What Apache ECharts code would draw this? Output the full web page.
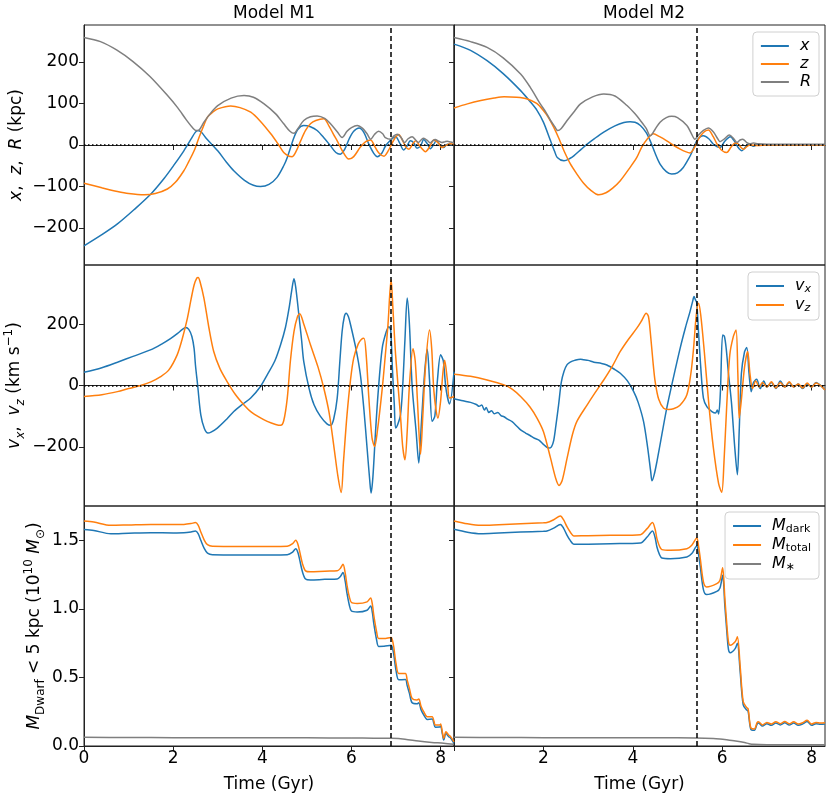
<!DOCTYPE html>
<html>
<head>
<meta charset="utf-8">
<script src="https://cdn.jsdelivr.net/npm/echarts@6/dist/echarts.min.js"></script>
<style>
  html, body { margin: 0; padding: 0; background: #fff; }
  #chart { width: 831px; height: 798px; }
</style>
</head>
<body>
<div id="chart"></div>
<script>
// ---- data: [time (Gyr), value] ----
const timeTicks = [0, 2, 4, 6, 8];
const timeTicksRight = [2, 4, 6, 8];
const posTicks = [-200, -100, 0, 100, 200];
const velTicks = [-200, 0, 200];
const massTicks = [0, 0.5, 1.0, 1.5];
const cutTime = [6.88, 5.42];   // dashed lines, M1 / M2

const m1X = [[0,-243],[0.4,-216],[0.75,-190],[1.12,-156],[1.5,-118],[1.8,-80],[2.02,-48],[2.24,-14],[2.4,14],[2.5,31],[2.56,35],[2.64,30],[2.75,15],[3.0,-14],[3.2,-42],[3.36,-62],[3.6,-85],[3.8,-97],[3.96,-100],[4.15,-95],[4.33,-78],[4.48,-50],[4.56,-30],[4.71,18],[4.8,38],[4.93,47],[5.08,44],[5.23,35],[5.4,15],[5.53,-2],[5.65,-18],[5.75,-22],[5.85,-10],[5.95,15],[6.05,33],[6.17,41],[6.28,30],[6.39,2],[6.5,-20],[6.58,-28],[6.68,-20],[6.76,-3],[6.88,12],[6.99,20],[7.08,5],[7.17,-12],[7.25,-2],[7.32,10],[7.4,5],[7.47,-8],[7.55,-2],[7.62,13],[7.7,3],[7.77,-9],[7.85,2],[7.9,10],[8.0,-2],[8.07,-6],[8.15,2],[8.3,0]];
const m1Z = [[0,-92],[0.4,-103],[0.75,-112],[1.0,-117],[1.35,-120],[1.6,-117],[1.87,-106],[2.05,-90],[2.24,-62],[2.35,-40],[2.47,-14],[2.58,18],[2.68,45],[2.77,67],[2.9,80],[3.0,87],[3.29,94],[3.5,90],[3.74,79],[3.95,58],[4.19,27],[4.35,3],[4.48,-18],[4.6,-27],[4.67,-28],[4.76,-15],[4.86,10],[4.97,35],[5.08,51],[5.2,59],[5.38,63],[5.5,45],[5.6,25],[5.68,10],[5.8,-15],[5.94,-34],[6.05,-28],[6.2,-5],[6.32,8],[6.43,12],[6.53,-5],[6.62,-20],[6.73,-27],[6.82,-15],[6.95,12],[7.06,25],[7.15,10],[7.22,-5],[7.29,-10],[7.37,2],[7.44,10],[7.55,-5],[7.66,-16],[7.75,-5],[7.85,12],[7.95,5],[8.03,-6],[8.12,-1],[8.22,3],[8.3,1]];
const m1R = [[0,259],[0.37,249],[0.73,229],[1.1,201],[1.48,165],[1.85,122],[2.1,90],[2.3,60],[2.45,40],[2.52,35],[2.58,36],[2.69,55],[2.85,78],[3.0,95],[3.3,113],[3.59,119],[3.8,115],[4.04,99],[4.3,75],[4.48,51],[4.62,33],[4.71,28],[4.8,40],[4.93,59],[5.08,68],[5.23,70],[5.4,64],[5.53,51],[5.68,32],[5.79,18],[5.9,33],[6.0,42],[6.13,47],[6.25,40],[6.35,27],[6.43,14],[6.52,26],[6.61,33],[6.7,27],[6.76,18],[6.88,14],[6.95,22],[7.03,26],[7.12,17],[7.19,6],[7.27,15],[7.36,20],[7.44,12],[7.5,6],[7.56,12],[7.62,16],[7.7,11],[7.77,5],[7.82,10],[7.88,13],[7.96,9],[8.03,6],[8.1,8],[8.15,9],[8.22,7],[8.3,5]];

const m2X = [[0,243],[0.37,228],[0.74,203],[1.1,172],[1.49,131],[1.7,105],[1.86,83],[2.0,55],[2.16,10],[2.25,-15],[2.31,-30],[2.46,-38],[2.6,-32],[2.68,-26],[2.85,-10],[2.98,2],[3.15,16],[3.35,31],[3.6,46],[3.8,54],[3.94,56],[4.05,55],[4.17,47],[4.3,30],[4.39,10],[4.5,-20],[4.61,-46],[4.75,-64],[4.87,-70],[5.0,-67],[5.13,-54],[5.25,-33],[5.32,-18],[5.43,10],[5.5,19],[5.58,22],[5.7,15],[5.82,0],[5.95,-6],[6.05,8],[6.18,20],[6.28,8],[6.35,-5],[6.44,-14],[6.52,-5],[6.6,2],[6.7,-3],[6.8,1],[7.0,0],[8.3,0]];
const m2Z = [[0,89],[0.3,99],[0.6,107],[0.9,113],[1.12,116],[1.4,115],[1.64,111],[1.85,100],[2.0,83],[2.12,65],[2.23,43],[2.35,15],[2.46,-14],[2.6,-45],[2.75,-70],[2.9,-92],[3.05,-108],[3.24,-120],[3.4,-115],[3.55,-104],[3.72,-86],[3.9,-60],[4.09,-30],[4.2,-5],[4.32,14],[4.46,27],[4.6,20],[4.76,10],[4.9,0],[5.06,-10],[5.18,-16],[5.28,-19],[5.36,-10],[5.47,14],[5.58,30],[5.69,36],[5.8,20],[5.88,3],[5.98,-12],[6.1,-18],[6.2,-5],[6.29,5],[6.35,3],[6.44,-8],[6.48,-10],[6.55,-4],[6.62,0],[6.8,-1],[7.0,0],[8.3,0]];
const m2R = [[0,259],[0.37,249],[0.74,235],[1.1,210],[1.49,171],[1.7,140],[1.93,99],[2.05,80],[2.16,59],[2.25,45],[2.32,35],[2.4,40],[2.53,59],[2.7,82],[2.83,99],[3.1,116],[3.35,123],[3.6,118],[3.87,95],[4.05,75],[4.17,59],[4.3,40],[4.39,22],[4.5,38],[4.61,55],[4.75,66],[4.87,69],[5.0,66],[5.21,47],[5.3,30],[5.39,14],[5.47,24],[5.58,35],[5.69,41],[5.8,32],[5.9,15],[5.95,8],[6.05,15],[6.16,24],[6.26,15],[6.33,6],[6.4,12],[6.46,14],[6.55,6],[6.62,3],[6.7,5],[6.8,3],[7.0,2],[8.3,2]];

const m1Vx = [[0,43],[0.4,58],[0.75,76],[1.1,95],[1.49,116],[1.75,136],[1.94,153],[2.1,170],[2.2,182],[2.28,189],[2.35,183],[2.42,160],[2.47,120],[2.5,67],[2.55,0],[2.62,-96],[2.7,-140],[2.78,-155],[2.85,-152],[2.99,-139],[3.2,-110],[3.36,-85],[3.55,-62],[3.74,-41],[3.95,-5],[4.11,35],[4.28,80],[4.41,133],[4.52,190],[4.6,252],[4.66,310],[4.71,348],[4.75,320],[4.82,230],[4.88,150],[4.93,78],[5.05,-10],[5.16,-63],[5.3,-100],[5.45,-125],[5.53,-130],[5.6,-110],[5.68,-41],[5.74,80],[5.79,176],[5.84,225],[5.88,236],[5.93,225],[5.98,198],[6.1,120],[6.2,35],[6.28,-80],[6.35,-204],[6.41,-310],[6.44,-351],[6.48,-300],[6.54,-150],[6.6,-20],[6.69,122],[6.78,175],[6.84,192],[6.88,180],[6.92,50],[6.96,-60],[6.99,-139],[7.03,-130],[7.1,-96],[7.15,0],[7.2,150],[7.25,285],[7.3,200],[7.36,0],[7.45,-150],[7.51,-253],[7.57,-120],[7.64,40],[7.7,118],[7.75,20],[7.81,-117],[7.87,-100],[7.93,20],[8.0,100],[8.06,80],[8.12,-10],[8.2,-60],[8.3,45]];
const m1Vz = [[0,-36],[0.4,-30],[0.75,-20],[1.0,-10],[1.27,0],[1.5,12],[1.72,29],[1.9,50],[2.09,100],[2.2,150],[2.32,220],[2.4,280],[2.47,328],[2.53,350],[2.56,352],[2.6,340],[2.69,285],[2.8,190],[2.91,111],[3.05,55],[3.21,13],[3.4,-30],[3.6,-65],[3.74,-85],[3.95,-105],[4.11,-117],[4.3,-127],[4.41,-130],[4.48,-115],[4.56,-41],[4.63,80],[4.71,176],[4.79,225],[4.84,234],[4.92,205],[5.08,133],[5.25,60],[5.38,-9],[5.5,-90],[5.61,-204],[5.7,-300],[5.77,-349],[5.82,-250],[5.9,-96],[5.98,20],[6.05,89],[6.15,135],[6.22,150],[6.28,154],[6.33,100],[6.39,-41],[6.46,-170],[6.52,-199],[6.58,-150],[6.69,-10],[6.76,100],[6.82,200],[6.86,300],[6.89,345],[6.93,250],[6.99,100],[7.1,-100],[7.15,-200],[7.2,-242],[7.25,-150],[7.3,0],[7.38,120],[7.43,80],[7.48,-50],[7.55,-224],[7.6,-100],[7.66,60],[7.75,181],[7.8,120],[7.85,-20],[7.94,-106],[8.0,-50],[8.05,40],[8.09,82],[8.15,20],[8.2,-41],[8.3,-36]];

const m2Vx = [[0,-43],[0.2,-50],[0.37,-55],[0.5,-62],[0.56,-68],[0.62,-64],[0.68,-80],[0.72,-72],[0.78,-88],[0.84,-82],[0.9,-92],[0.98,-88],[1.05,-98],[1.12,-102],[1.2,-110],[1.3,-118],[1.4,-132],[1.49,-145],[1.6,-155],[1.7,-163],[1.8,-172],[1.9,-178],[2.0,-192],[2.08,-202],[2.12,-204],[2.18,-200],[2.23,-180],[2.28,-130],[2.34,-63],[2.4,10],[2.46,46],[2.53,68],[2.6,76],[2.7,82],[2.83,86],[2.9,84],[3.0,82],[3.13,76],[3.3,72],[3.42,67],[3.6,52],[3.72,40],[3.88,15],[4.02,-20],[4.12,-55],[4.24,-117],[4.33,-200],[4.4,-280],[4.43,-311],[4.48,-290],[4.54,-248],[4.65,-160],[4.76,-74],[4.9,20],[5.06,122],[5.18,190],[5.28,241],[5.34,275],[5.37,290],[5.4,280],[5.43,270],[5.47,176],[5.52,60],[5.58,-41],[5.66,-70],[5.77,-85],[5.85,-90],[5.89,-80],[5.92,-93],[5.96,-20],[6.01,165],[6.05,160],[6.09,120],[6.14,40],[6.21,-60],[6.28,-200],[6.34,-291],[6.38,-150],[6.43,40],[6.5,110],[6.55,124],[6.6,40],[6.65,-20],[6.7,10],[6.77,20],[6.85,-10],[6.93,15],[7.0,-5],[7.1,10],[7.2,-10],[7.3,15],[7.4,-5],[7.5,10],[7.6,-5],[7.7,5],[7.8,-10],[7.9,5],[8.0,-5],[8.1,10],[8.2,0],[8.3,-15]];
const m2Vz = [[0,37],[0.37,30],[0.74,18],[1.12,2],[1.3,-12],[1.49,-36],[1.7,-70],[1.86,-107],[2.0,-150],[2.16,-237],[2.28,-305],[2.35,-326],[2.42,-310],[2.53,-237],[2.65,-160],[2.75,-117],[2.98,-63],[3.15,-25],[3.35,18],[3.55,65],[3.72,111],[3.9,150],[4.09,187],[4.2,212],[4.3,236],[4.35,225],[4.39,176],[4.45,80],[4.5,13],[4.58,-45],[4.69,-74],[4.8,-78],[4.91,-76],[5.05,-65],[5.21,-30],[5.3,40],[5.36,122],[5.42,230],[5.47,268],[5.52,230],[5.6,110],[5.7,-60],[5.8,-200],[5.92,-320],[5.99,-348],[6.04,-250],[6.1,-70],[6.17,100],[6.25,160],[6.31,181],[6.35,40],[6.38,-107],[6.42,-60],[6.5,60],[6.57,111],[6.62,40],[6.68,-10],[6.75,15],[6.83,-5],[6.9,10],[7.0,-5],[7.1,12],[7.2,-8],[7.3,10],[7.4,-5],[7.5,12],[7.6,-5],[7.7,5],[7.8,-8],[7.9,8],[8.0,-5],[8.1,8],[8.2,0],[8.3,-15]];

const m1Total = [[0,1.641],[0.22,1.633],[0.6,1.609],[1.0,1.612],[1.5,1.616],[2.0,1.615],[2.24,1.616],[2.4,1.622],[2.5,1.629],[2.56,1.61],[2.62,1.561],[2.7,1.5],[2.77,1.468],[2.88,1.456],[3.5,1.454],[4.2,1.454],[4.56,1.456],[4.68,1.475],[4.75,1.5],[4.8,1.47],[4.84,1.415],[4.9,1.33],[4.97,1.277],[5.08,1.27],[5.4,1.275],[5.68,1.277],[5.75,1.295],[5.81,1.325],[5.86,1.26],[5.9,1.172],[5.95,1.09],[6.0,1.046],[6.13,1.039],[6.35,1.051],[6.43,1.08],[6.47,1.03],[6.5,0.954],[6.56,0.84],[6.61,0.784],[6.73,0.784],[6.89,0.791],[6.92,0.77],[6.95,0.72],[7.0,0.6],[7.06,0.529],[7.21,0.529],[7.25,0.48],[7.3,0.42],[7.36,0.347],[7.47,0.335],[7.51,0.342],[7.56,0.29],[7.62,0.25],[7.7,0.214],[7.81,0.214],[7.85,0.18],[7.88,0.153],[7.98,0.153],[8.0,0.16],[8.04,0.1],[8.07,0.056],[8.12,0.104],[8.18,0.08],[8.22,0.07],[8.3,0.03]];
const m1Dark = [[0,1.579],[0.22,1.572],[0.6,1.547],[1.0,1.551],[1.5,1.555],[2.0,1.554],[2.24,1.555],[2.4,1.561],[2.5,1.568],[2.56,1.549],[2.62,1.5],[2.7,1.439],[2.77,1.407],[2.88,1.395],[3.5,1.393],[4.2,1.393],[4.56,1.395],[4.68,1.414],[4.75,1.439],[4.8,1.41],[4.84,1.355],[4.9,1.27],[4.97,1.217],[5.08,1.21],[5.4,1.215],[5.68,1.217],[5.75,1.235],[5.81,1.265],[5.86,1.2],[5.9,1.112],[5.95,1.03],[6.0,0.984],[6.13,0.977],[6.35,0.99],[6.43,1.02],[6.47,0.97],[6.5,0.895],[6.56,0.78],[6.61,0.726],[6.73,0.727],[6.89,0.735],[6.92,0.715],[6.95,0.665],[7.0,0.55],[7.06,0.483],[7.21,0.485],[7.25,0.44],[7.3,0.385],[7.36,0.315],[7.47,0.308],[7.51,0.316],[7.56,0.265],[7.62,0.228],[7.7,0.194],[7.81,0.196],[7.85,0.163],[7.88,0.137],[7.98,0.138],[8.0,0.145],[8.04,0.087],[8.07,0.044],[8.12,0.092],[8.18,0.068],[8.22,0.06],[8.3,0.02]];
const m1Star = [[0,0.063],[1.0,0.062],[2.0,0.061],[3.0,0.06],[4.0,0.06],[5.0,0.06],[6.0,0.058],[6.5,0.057],[6.9,0.056],[7.2,0.05],[7.5,0.036],[7.8,0.026],[8.07,0.02],[8.3,0.012]];

const m2Total = [[0,1.641],[0.3,1.62],[0.6,1.609],[1.0,1.614],[1.49,1.621],[2.0,1.627],[2.08,1.629],[2.23,1.65],[2.38,1.677],[2.45,1.65],[2.53,1.597],[2.6,1.56],[2.68,1.532],[3.0,1.533],[3.5,1.536],[4.17,1.541],[4.32,1.585],[4.44,1.629],[4.5,1.58],[4.54,1.512],[4.6,1.455],[4.65,1.432],[4.84,1.427],[5.21,1.439],[5.32,1.464],[5.43,1.517],[5.47,1.46],[5.51,1.367],[5.58,1.197],[5.65,1.16],[5.88,1.184],[5.95,1.209],[6.01,1.299],[6.06,1.075],[6.1,0.9],[6.14,0.76],[6.18,0.735],[6.29,0.76],[6.34,0.796],[6.4,0.59],[6.47,0.323],[6.55,0.279],[6.58,0.27],[6.64,0.133],[6.72,0.124],[6.78,0.17],[6.81,0.177],[6.9,0.153],[7.0,0.172],[7.1,0.16],[7.2,0.177],[7.3,0.163],[7.4,0.178],[7.5,0.162],[7.6,0.176],[7.7,0.16],[7.8,0.17],[7.9,0.188],[8.0,0.16],[8.1,0.172],[8.2,0.168],[8.3,0.17]];
const m2Dark = [[0,1.58],[0.3,1.559],[0.6,1.548],[1.0,1.553],[1.49,1.56],[2.0,1.566],[2.08,1.568],[2.23,1.589],[2.38,1.616],[2.45,1.589],[2.53,1.536],[2.6,1.499],[2.68,1.471],[3.0,1.472],[3.5,1.475],[4.17,1.48],[4.32,1.524],[4.44,1.568],[4.5,1.519],[4.54,1.451],[4.6,1.394],[4.65,1.371],[4.84,1.366],[5.21,1.378],[5.32,1.403],[5.43,1.458],[5.47,1.4],[5.51,1.307],[5.58,1.14],[5.65,1.104],[5.88,1.127],[5.95,1.152],[6.01,1.245],[6.06,1.02],[6.1,0.85],[6.14,0.705],[6.18,0.68],[6.29,0.71],[6.34,0.75],[6.4,0.55],[6.47,0.3],[6.55,0.262],[6.58,0.255],[6.64,0.122],[6.72,0.114],[6.78,0.16],[6.81,0.168],[6.9,0.145],[7.0,0.163],[7.1,0.151],[7.2,0.168],[7.3,0.154],[7.4,0.169],[7.5,0.153],[7.6,0.167],[7.7,0.151],[7.8,0.161],[7.9,0.179],[8.0,0.151],[8.1,0.163],[8.2,0.159],[8.3,0.161]];
const m2Star = [[0,0.063],[1.0,0.062],[2.0,0.061],[3.0,0.061],[4.0,0.06],[5.0,0.06],[5.4,0.059],[5.8,0.055],[5.95,0.051],[6.1,0.045],[6.3,0.036],[6.5,0.025],[6.6,0.017],[6.7,0.012],[7.0,0.01],[8.3,0.01]];

// ---- styling / layout ----
const BLUE = '#1f77b4', ORANGE = '#ff7f0e', GRAY = '#7f7f7f';
const FONT = 'DejaVu Sans';
const FS = 17;
const cols = [{ left: 84, width: 370 }, { left: 454, width: 371 }];
const rows = [{ top: 25, height: 240 }, { top: 265, height: 241 }, { top: 506, height: 240 }];
const yRange = [[-289, 289], [-393, 393], [0, 1.75]];
const yTicks = [posTicks, velTicks, massTicks];

const rich = {
  n: { fontSize: FS, fontFamily: FONT, color: '#000', lineHeight: 24 },
  i: { fontSize: FS, fontFamily: FONT, color: '#000', fontStyle: 'italic', lineHeight: 24 },
  sub: { fontSize: 12, fontFamily: FONT, color: '#000', lineHeight: 14, verticalAlign: 'bottom' },
  isub: { fontSize: 12, fontFamily: FONT, color: '#000', fontStyle: 'italic', lineHeight: 14, verticalAlign: 'bottom' },
  sup: { fontSize: 12, fontFamily: FONT, color: '#000', lineHeight: 14, verticalAlign: 'top' }
};
const yNames = [
  '{i|x}{n|,  }{i|z}{n|,  }{i|R}{n| (kpc)}',
  '{i|v}{isub|x}{n|,  }{i|v}{isub|z}{n| (km s}{sup|\u22121}{n|)}',
  '{i|M}{sub|Dwarf}{n| < 5 kpc (10}{sup|10}{n| }{i|M}{sub|\u2299}{n|)}'
];
const yNameGap = [55, 57, 37];

const minus = v => (v < 0 ? '\u2212' + Math.abs(v) : String(v));

const panels = [
  [[['x', m1X, BLUE], ['z', m1Z, ORANGE], ['R', m1R, GRAY]],
   [['x', m2X, BLUE], ['z', m2Z, ORANGE], ['R', m2R, GRAY]]],
  [[['vx', m1Vx, BLUE], ['vz', m1Vz, ORANGE]],
   [['vx', m2Vx, BLUE], ['vz', m2Vz, ORANGE]]],
  [[['Mdark', m1Dark, BLUE], ['Mtotal', m1Total, ORANGE], ['Mstar', m1Star, GRAY]],
   [['Mdark', m2Dark, BLUE], ['Mtotal', m2Total, ORANGE], ['Mstar', m2Star, GRAY]]]
];

const grid = [], xAxis = [], yAxis = [], series = [];
rows.forEach((row, r) => {
  cols.forEach((col, c) => {
    const gi = grid.length;
    grid.push({
      left: col.left, width: col.width, top: row.top, height: row.height,
      show: true, borderColor: '#222', borderWidth: 1, backgroundColor: 'transparent'
    });
    xAxis.push({
      type: 'value', gridIndex: gi, min: 0, max: 8.3,
      axisLine: { show: true, lineStyle: { color: '#222' } },
      axisTick: { show: true, length: 5, customValues: timeTicks, lineStyle: { color: '#222' } },
      axisLabel: {
        show: r === 2, customValues: c === 0 ? timeTicks : timeTicksRight,
        fontSize: FS, fontFamily: FONT, color: '#000', margin: 4
      },
      splitLine: { show: false },
      name: r === 2 ? 'Time (Gyr)' : '',
      nameLocation: 'middle', nameGap: 30,
      nameTextStyle: { fontSize: FS, fontFamily: FONT, color: '#000' }
    });
    yAxis.push({
      type: 'value', gridIndex: gi, min: yRange[r][0], max: yRange[r][1],
      axisLine: { show: true, lineStyle: { color: '#222' } },
      axisTick: { show: true, length: 5, customValues: yTicks[r], lineStyle: { color: '#222' } },
      axisLabel: {
        show: c === 0, customValues: yTicks[r], fontSize: FS, fontFamily: FONT, color: '#000', margin: 5,
        formatter: v => (r === 2 ? v.toFixed(1) : minus(v))
      },
      splitLine: { show: false },
      name: c === 0 ? yNames[r] : '',
      nameLocation: 'middle', nameRotate: 90, nameGap: yNameGap[r],
      nameTextStyle: { rich: rich }
    });
    const defs = panels[r][c];
    defs.forEach((d, k) => {
      const s = {
        name: d[0], type: 'line', xAxisIndex: gi, yAxisIndex: gi,
        data: d[1], showSymbol: false, smooth: 0.3,
        color: d[2], lineStyle: { width: 1.5, color: d[2] },
        animation: false
      };
      if (k === defs.length - 1) {
        const ml = [{ xAxis: cutTime[c], lineStyle: { type: [5, 3], color: '#000', width: 1.5 } }];
        if (r < 2) ml.push({ yAxis: 0, lineStyle: { type: [1.5, 2.5], color: '#000', width: 1.5 } });
        s.markLine = { silent: true, symbol: 'none', label: { show: false }, data: ml, animation: false };
      }
      series.push(s);
    });
  });
});

const legendRich = {
  i: { fontSize: 16, fontFamily: FONT, color: '#000', fontStyle: 'italic', lineHeight: 18 },
  sub: { fontSize: 11, fontFamily: FONT, color: '#000', lineHeight: 11, verticalAlign: 'bottom' },
  isub: { fontSize: 11, fontFamily: FONT, color: '#000', fontStyle: 'italic', lineHeight: 11, verticalAlign: 'bottom' }
};
const legendLabel = {
  x: '{i|x}', z: '{i|z}', R: '{i|R}',
  vx: '{i|v}{isub|x}', vz: '{i|v}{isub|z}',
  Mdark: '{i|M}{sub|dark}', Mtotal: '{i|M}{sub|total}', Mstar: '{i|M}{sub|\u2217}'
};
const legendBase = {
  orient: 'vertical', right: 12, icon: 'rect', itemWidth: 28, itemHeight: 2, itemGap: 2,
  padding: [6, 8, 6, 8], backgroundColor: 'rgba(255,255,255,0.8)',
  borderColor: '#d0d0d0', borderWidth: 1, borderRadius: 4,
  textStyle: { rich: legendRich, fontSize: 16, padding: [0, 0, 0, 6] },
  formatter: n => legendLabel[n], selectedMode: false
};
const legend = [
  Object.assign({}, legendBase, { top: 32, data: ['x', 'z', 'R'] }),
  Object.assign({}, legendBase, { top: 272, data: ['vx', 'vz'] }),
  Object.assign({}, legendBase, { top: 512, data: ['Mdark', 'Mtotal', 'Mstar'] })
];

const titleStyle = { fontSize: FS, fontWeight: 'normal', fontFamily: FONT, color: '#000' };

const chart = echarts.init(document.getElementById('chart'));
chart.setOption({
  backgroundColor: '#fff',
  animation: false,
  title: [
    { text: 'Model M1', left: 269, top: 0, textAlign: 'center', textStyle: titleStyle },
    { text: 'Model M2', left: 639, top: 0, textAlign: 'center', textStyle: titleStyle }
  ],
  legend: legend,
  grid: grid,
  xAxis: xAxis,
  yAxis: yAxis,
  series: series
});
</script>
</body>
</html>
